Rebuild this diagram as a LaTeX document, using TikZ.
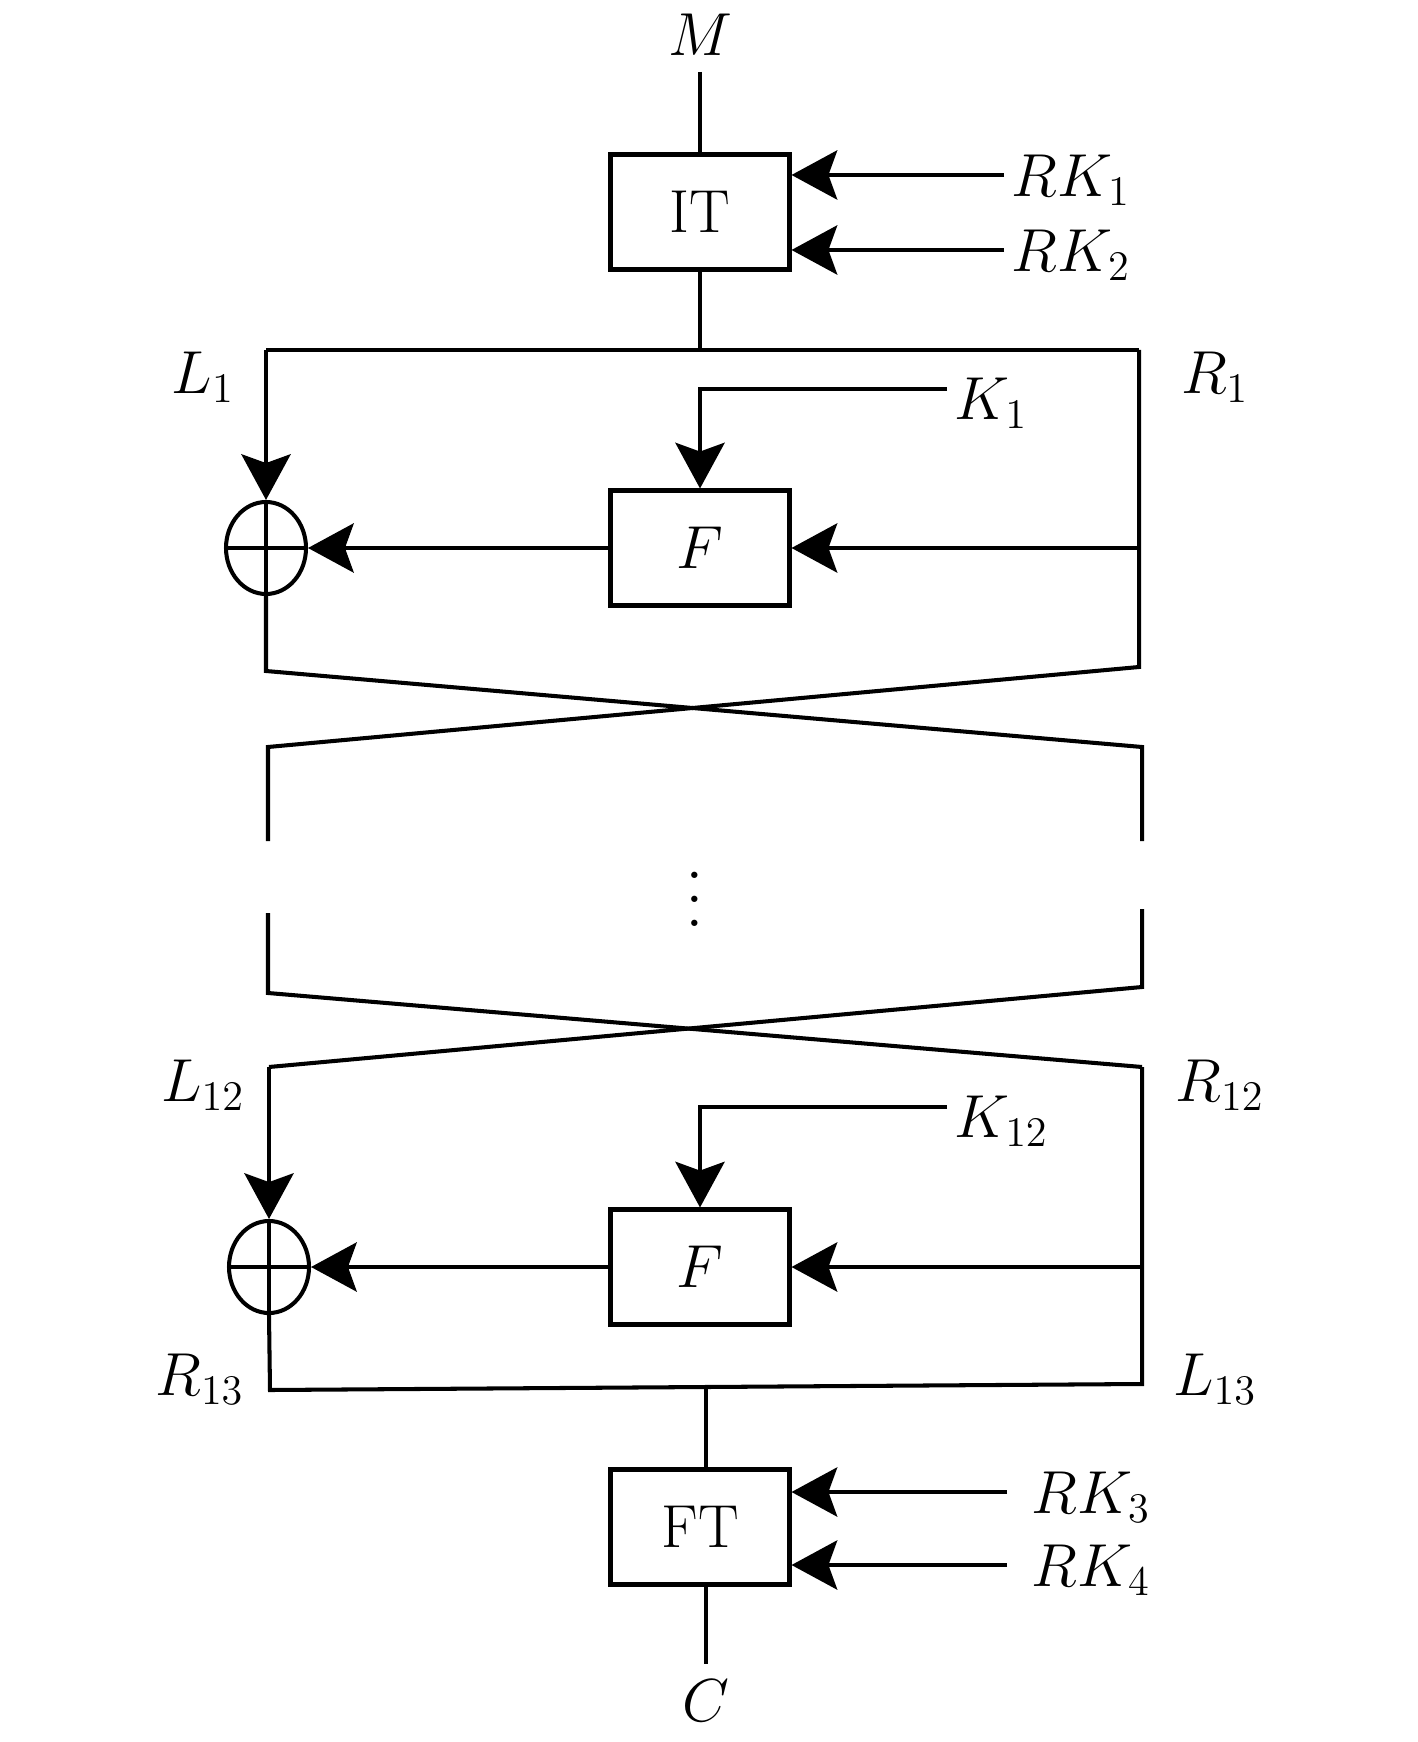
\documentclass[tikz,border=0pt]{standalone}
\usetikzlibrary{arrows.meta,positioning,shapes.geometric,calc}
\tikzset{
  wire/.style={line width=1.15pt},
  keyarrow/.style={
    -{Stealth[length=13pt, width=14pt, inset=2.5pt]}, line width=1.15pt
  },
  funcbox/.style={
    rectangle, draw, line width=1.15pt,
    minimum width=1.79cm, minimum height=1.15cm,
    font=\LARGE, inner sep=0pt
  },
  xorbox/.style={
    ellipse, draw, line width=1.15pt,
    minimum width=0.80cm, minimum height=0.92cm, inner sep=0pt
  },
  varlabel/.style={
    font=\LARGE, inner sep=2pt, text height=12pt, text depth=0pt
  },
}

\begin{document}
\begin{tikzpicture}
  \useasboundingbox (0,0) rectangle (14.17,-17.42);

  % Initial transformation
  \node[varlabel] (m) at (7.00,-0.34) {$M$};
  \node[funcbox] (it) at (7.00,-2.12) {IT};
  \coordinate (mcut) at (7.00,-0.72);
  \draw[wire] (mcut) -- (it.north);
  \node[varlabel, anchor=west] (rk1) at (10.04,-1.75) {$RK_1$};
  \node[varlabel, anchor=west] (rk2) at (10.04,-2.50) {$RK_2$};
  \draw[keyarrow] (rk1.west) -- (it.east |- rk1.west);
  \draw[keyarrow] (rk2.west) -- (it.east |- rk2.west);

  % Round 1
  \coordinate (split1) at (7.00,-3.50);
  \coordinate (l1top) at (2.66,-3.50);
  \coordinate (r1top) at (11.39,-3.50);
  \draw[wire] (it.south) -- (split1);
  \draw[wire] (l1top) -- (r1top);
  \node[varlabel] (l1) at (2.03,-3.72) {$L_1$};
  \node[varlabel] (r1) at (12.15,-3.72) {$R_1$};
  \node[xorbox] (xor1) at (2.66,-5.48) {};
  \draw[wire] (xor1.north) -- (xor1.south) (xor1.west) -- (xor1.east);
  \node[funcbox] (f1) at (7.00,-5.48) {$F$};
  \node[varlabel, anchor=west] (k1) at (9.47,-3.98) {$K_1$};
  \draw[keyarrow] ([yshift=0.09cm]k1.west) -| (f1.north);
  \draw[keyarrow] (l1top) -- (xor1.north);
  \draw[keyarrow] (f1.east -| r1top) -- (f1.east);
  \draw[keyarrow] (f1.west) -- (xor1.east);

  % Swap after round 1
  \coordinate (l1bot) at (2.66,-6.71);
  \coordinate (r1bot) at (11.39,-6.67);
  \coordinate (l2top) at (2.68,-7.47);
  \coordinate (r2top) at (11.42,-7.47);
  \coordinate (l2cut) at (2.68,-8.41);
  \coordinate (r2cut) at (11.42,-8.41);
  \draw[wire] (xor1.south) -- (l1bot) -- (r2top) -- (r2cut);
  \draw[wire] (r1top) -- (r1bot) -- (l2top) -- (l2cut);

  \node[scale=1.7, anchor=base] (dots) at (6.95,-9.26) {$\vdots$};

  % Swap before round 12
  \coordinate (l11cut) at (2.68,-9.13);
  \coordinate (r11cut) at (11.42,-9.09);
  \coordinate (l11bot) at (2.68,-9.93);
  \coordinate (r11bot) at (11.42,-9.87);
  \coordinate (l12top) at (2.69,-10.67);
  \coordinate (r12top) at (11.42,-10.67);
  \draw[wire] (l11cut) -- (l11bot) -- (r12top);
  \draw[wire] (r11cut) -- (r11bot) -- (l12top);

  % Round 12
  \node[varlabel] (l12) at (2.03,-10.80) {$L_{12}$};
  \node[varlabel] (r12) at (12.20,-10.80) {$R_{12}$};
  \node[xorbox] (xor2) at (2.69,-12.67) {};
  \draw[wire] (xor2.north) -- (xor2.south) (xor2.west) -- (xor2.east);
  \node[funcbox] (f2) at (7.00,-12.67) {$F$};
  \node[varlabel, anchor=west] (k12) at (9.47,-11.16) {$K_{12}$};
  \draw[keyarrow] ([yshift=0.09cm]k12.west) -| (f2.north);
  \draw[keyarrow] (l12top) -- (xor2.north);
  \draw[keyarrow] (f2.east -| r12top) -- (f2.east);
  \draw[keyarrow] (f2.west) -- (xor2.east);

  % Output of round 12
  \coordinate (r13bot) at (2.70,-13.90);
  \coordinate (l13bot) at (11.42,-13.84);
  \coordinate (join) at (7.06,-13.87);
  \draw[wire] (xor2.south) -- (r13bot) -- (l13bot) -- (r12top);
  \node[varlabel] (r13) at (2.00,-13.74) {$R_{13}$};
  \node[varlabel] (l13) at (12.15,-13.74) {$L_{13}$};

  % Final transformation
  \node[funcbox] (ft) at (7.00,-15.27) {FT};
  \draw[wire] (join) -- (join |- ft.north);
  \node[varlabel, anchor=west] (rk3) at (10.24,-14.92) {$RK_3$};
  \node[varlabel, anchor=west] (rk4) at (10.24,-15.65) {$RK_4$};
  \draw[keyarrow] ([xshift=-0.17cm]rk3.west) -- (ft.east |- rk3.west);
  \draw[keyarrow] ([xshift=-0.17cm]rk4.west) -- (ft.east |- rk4.west);
  \coordinate (ccut) at (7.06,-16.64);
  \draw[wire] (ccut |- ft.south) -- (ccut);
  \node[varlabel] (c) at (7.06,-17.00) {$C$};
\end{tikzpicture}
\end{document}
